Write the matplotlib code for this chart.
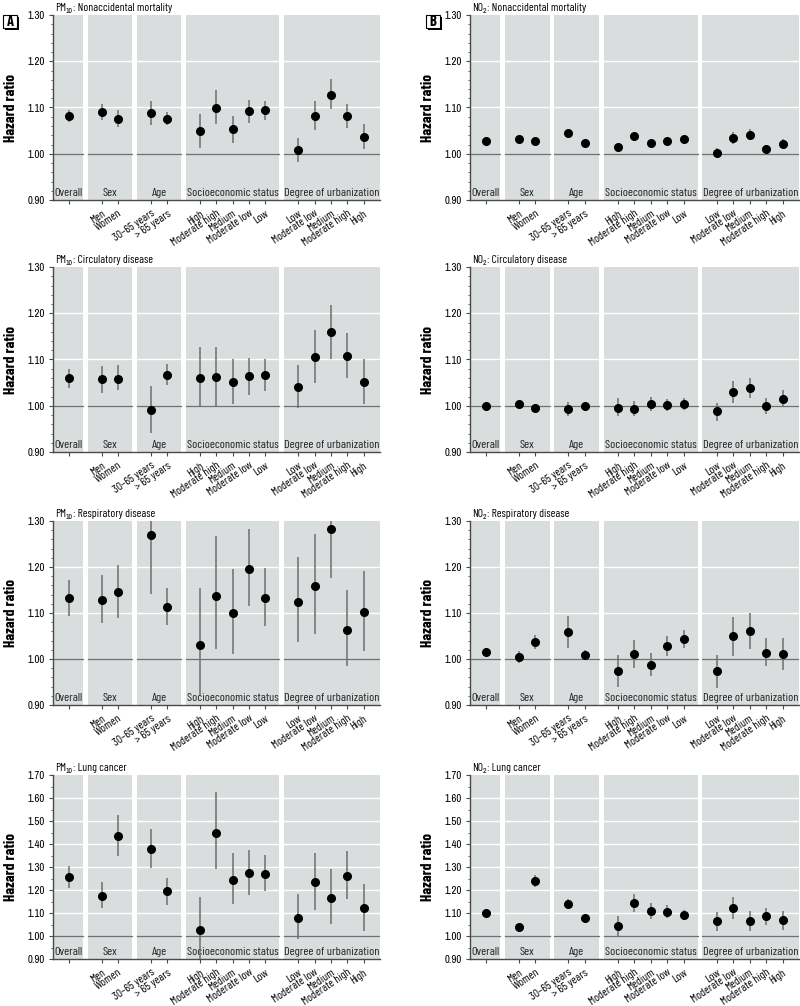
import matplotlib
matplotlib.use('Agg')
import matplotlib.pyplot as plt
from matplotlib import font_manager
from matplotlib.ticker import MultipleLocator
from matplotlib.patches import Rectangle
import numpy as np

names = {f.name for f in font_manager.fontManager.ttflist}
base = 'Barlow Condensed' if 'Barlow Condensed' in names else 'Liberation Sans'
num_font = 'Archivo Narrow' if 'Archivo Narrow' in names else base
plt.rcParams['font.family'] = [base, 'DejaVu Sans']

groups = ['Overall', 'Sex', 'Age', 'Socioeconomic status', 'Degree of urbanization']
group_sizes = [1, 2, 2, 5, 5]
subgroups = ['', 'Men', 'Women', '30–65 years', '> 65 years',
             'High', 'Moderate high', 'Medium', 'Moderate low', 'Low',
             'Low', 'Moderate low', 'Medium', 'Moderate high', 'High']

# hazard ratios with 95% CI, order as in subgroups
pm_mort_hr = [1.082, 1.091, 1.076, 1.088, 1.076, 1.049, 1.099, 1.053, 1.092, 1.094, 1.009, 1.082, 1.128, 1.081, 1.037]
pm_mort_lo = [1.069, 1.074, 1.058, 1.062, 1.063, 1.013, 1.064, 1.024, 1.067, 1.074, 0.982, 1.051, 1.096, 1.056, 1.011]
pm_mort_hi = [1.094, 1.107, 1.094, 1.115, 1.090, 1.085, 1.138, 1.081, 1.116, 1.115, 1.035, 1.115, 1.161, 1.107, 1.064]

no2_mort_hr = [1.028, 1.031, 1.028, 1.045, 1.024, 1.014, 1.038, 1.024, 1.028, 1.032, 1.002, 1.035, 1.041, 1.011, 1.022]
no2_mort_lo = [1.023, 1.026, 1.023, 1.039, 1.019, 1.004, 1.028, 1.019, 1.023, 1.027, 0.992, 1.022, 1.030, 1.002, 1.012]
no2_mort_hi = [1.033, 1.036, 1.033, 1.051, 1.029, 1.024, 1.048, 1.029, 1.033, 1.037, 1.012, 1.047, 1.053, 1.019, 1.031]

pm_circ_hr = [1.059, 1.057, 1.057, 0.990, 1.067, 1.060, 1.062, 1.052, 1.065, 1.067, 1.040, 1.106, 1.159, 1.107, 1.051]
pm_circ_lo = [1.039, 1.028, 1.033, 0.941, 1.044, 0.999, 0.999, 1.003, 1.024, 1.032, 0.995, 1.050, 1.101, 1.060, 1.003]
pm_circ_hi = [1.079, 1.087, 1.089, 1.042, 1.090, 1.126, 1.128, 1.101, 1.104, 1.102, 1.088, 1.164, 1.218, 1.157, 1.100]

no2_circ_hr = [0.999, 1.003, 0.996, 0.993, 0.999, 0.996, 0.994, 1.004, 1.002, 1.004, 0.988, 1.030, 1.038, 0.999, 1.015]
no2_circ_lo = [0.996, 0.998, 0.991, 0.977, 0.995, 0.977, 0.977, 0.988, 0.988, 0.991, 0.967, 1.007, 1.017, 0.983, 0.997]
no2_circ_hi = [1.002, 1.008, 1.001, 1.008, 1.003, 1.016, 1.011, 1.019, 1.014, 1.016, 1.007, 1.053, 1.059, 1.017, 1.035]

pm_resp_hr = [1.133, 1.129, 1.145, 1.269, 1.112, 1.031, 1.137, 1.100, 1.196, 1.132, 1.125, 1.158, 1.283, 1.063, 1.102]
pm_resp_lo = [1.094, 1.078, 1.089, 1.141, 1.074, 0.922, 1.021, 1.011, 1.116, 1.071, 1.037, 1.054, 1.177, 0.985, 1.018]
pm_resp_hi = [1.172, 1.182, 1.204, 1.411, 1.154, 1.154, 1.267, 1.196, 1.282, 1.198, 1.221, 1.271, 1.398, 1.149, 1.191]

no2_resp_hr = [1.015, 1.004, 1.037, 1.058, 1.009, 0.973, 1.011, 0.988, 1.028, 1.043, 0.973, 1.049, 1.060, 1.014, 1.011]
no2_resp_lo = [1.006, 0.991, 1.022, 1.024, 0.999, 0.939, 0.981, 0.963, 1.006, 1.023, 0.937, 1.007, 1.022, 0.984, 0.977]
no2_resp_hi = [1.025, 1.017, 1.053, 1.094, 1.019, 1.009, 1.042, 1.013, 1.050, 1.062, 1.009, 1.091, 1.099, 1.045, 1.045]

pm_lung_hr = [1.256, 1.175, 1.435, 1.378, 1.194, 1.025, 1.449, 1.245, 1.273, 1.271, 1.079, 1.233, 1.166, 1.261, 1.121]
pm_lung_lo = [1.208, 1.122, 1.349, 1.295, 1.136, 0.900, 1.290, 1.137, 1.178, 1.195, 0.985, 1.115, 1.054, 1.163, 1.022]
pm_lung_hi = [1.305, 1.234, 1.527, 1.466, 1.252, 1.168, 1.628, 1.359, 1.376, 1.351, 1.181, 1.363, 1.290, 1.369, 1.226]

no2_lung_hr = [1.098, 1.038, 1.240, 1.139, 1.078, 1.042, 1.143, 1.108, 1.106, 1.091, 1.064, 1.122, 1.064, 1.085, 1.069]
no2_lung_lo = [1.091, 1.031, 1.214, 1.116, 1.064, 1.000, 1.103, 1.074, 1.078, 1.069, 1.020, 1.074, 1.020, 1.049, 1.027]
no2_lung_hi = [1.105, 1.045, 1.266, 1.162, 1.093, 1.085, 1.184, 1.143, 1.136, 1.111, 1.103, 1.171, 1.107, 1.122, 1.107]

# x positions: one empty slot between groups
xs, spans = [], []
start = 0
for n in group_sizes:
    pos = list(range(start, start + n))
    xs += pos
    spans.append((pos[0] - 0.86, pos[-1] + 0.86))
    start += n + 1
xs = np.array(xs)
XLIM = (-0.97, 19.0)
spans[0] = (XLIM[0], spans[0][1])
spans[-1] = (spans[-1][0], XLIM[1])

BG = '#dadddd'
DARK = '#4a4a4a'
BAR = '#6e6e6e'


def draw(ax, pollutant, sub, outcome, hr, lo, hi, ymax):
    hr, lo, hi = np.array(hr), np.array(lo), np.array(hi)
    ax.set_facecolor('white')
    ax.set_xlim(*XLIM)
    ax.set_ylim(0.90, ymax)
    for (a, b), g in zip(spans, groups):
        ax.axvspan(a, b, color=BG, lw=0, zorder=0)
        for yy in np.arange(1.10, ymax - 0.001, 0.10):
            ax.plot([a, b], [yy, yy], color='white', lw=1.0, zorder=1)
        ax.plot([a, b], [1.0, 1.0], color='#707070', lw=0.9, zorder=1)
        ax.text((a + b) / 2, 0.012, g, transform=ax.get_xaxis_transform(),
                ha='center', va='bottom', fontsize=8.8, color='#222222')
    ax.errorbar(xs, hr, yerr=[hr - lo, hi - hr], fmt='o', color='black',
                ecolor=BAR, elinewidth=1.1, capsize=0, ms=5.5, zorder=3)
    ax.set_xticks(xs)
    ax.set_xticklabels(subgroups, rotation=34, ha='right',
                       rotation_mode='anchor', fontsize=8.4)
    ax.yaxis.set_major_locator(MultipleLocator(0.10))
    ax.yaxis.set_minor_locator(MultipleLocator(0.05 if ymax > 1.5 else 0.02))
    ax.yaxis.set_major_formatter(plt.FuncFormatter(lambda v, p: '%.2f' % v))
    ax.tick_params(axis='y', labelsize=7.8, length=3, color=DARK, pad=3)
    ax.tick_params(axis='y', which='minor', length=1.5, color=DARK)
    ax.tick_params(axis='x', length=3, color=DARK, pad=3)
    for lab in ax.get_yticklabels():
        lab.set_family(num_font)
    for s in ['top', 'right']:
        ax.spines[s].set_visible(False)
    for s in ['left', 'bottom']:
        ax.spines[s].set_color(DARK)
        ax.spines[s].set_linewidth(1.0)
    # title with subscript built from pieces
    t1 = ax.text(0.005, 1.012, pollutant, transform=ax.transAxes, ha='left',
                 va='bottom', fontsize=8.3)
    t2 = ax.annotate(sub, xy=(1, 0), xycoords=t1, xytext=(0.3, -1.0),
                     textcoords='offset points', ha='left', va='bottom',
                     fontsize=5.5, family=num_font)
    ax.annotate(': ' + outcome, xy=(1, 0), xycoords=(t2, t1), ha='left',
                va='bottom', fontsize=8.3)


fig = plt.figure(figsize=(8, 10.06), dpi=100)
W, H = 800, 1006
rows = [(15, 200), (267, 452), (521, 705), (775, 959)]
cols = [(53, 380), (470, 799)]

panels = [
    [('PM', '10', 'Nonaccidental mortality', pm_mort_hr, pm_mort_lo, pm_mort_hi, 1.30),
     ('NO', '2', 'Nonaccidental mortality', no2_mort_hr, no2_mort_lo, no2_mort_hi, 1.30)],
    [('PM', '10', 'Circulatory disease', pm_circ_hr, pm_circ_lo, pm_circ_hi, 1.30),
     ('NO', '2', 'Circulatory disease', no2_circ_hr, no2_circ_lo, no2_circ_hi, 1.30)],
    [('PM', '10', 'Respiratory disease', pm_resp_hr, pm_resp_lo, pm_resp_hi, 1.30),
     ('NO', '2', 'Respiratory disease', no2_resp_hr, no2_resp_lo, no2_resp_hi, 1.30)],
    [('PM', '10', 'Lung cancer', pm_lung_hr, pm_lung_lo, pm_lung_hi, 1.70),
     ('NO', '2', 'Lung cancer', no2_lung_hr, no2_lung_lo, no2_lung_hi, 1.70)],
]

for i, (top, bot) in enumerate(rows):
    for j, (l, r) in enumerate(cols):
        ax = fig.add_axes([l / W, 1 - bot / H, (r - l) / W, (bot - top) / H])
        draw(ax, *panels[i][j])
        fig.text((l - 42) / W, 1 - (top + bot) / 2 / H, 'Hazard ratio',
                 rotation=90, ha='center', va='center', fontsize=11,
                 weight='bold')

# boxed panel letters with drop shadow
for letter, x0 in [('A', 3), ('B', 426)]:
    w, h = 14, 13
    fig.patches.append(Rectangle(((x0 + 2) / W, 1 - (15 + h + 2) / H), w / W, h / H,
                                 transform=fig.transFigure, fc='black', ec='black', lw=0))
    fig.patches.append(Rectangle((x0 / W, 1 - (15 + h) / H), w / W, h / H,
                                 transform=fig.transFigure, fc='white', ec='black', lw=0.8))
    fig.text((x0 + w / 2) / W, 1 - (15 + h / 2) / H, letter, ha='center',
             va='center', fontsize=10.5, weight='bold')

fig.savefig('out.png', dpi=100)
